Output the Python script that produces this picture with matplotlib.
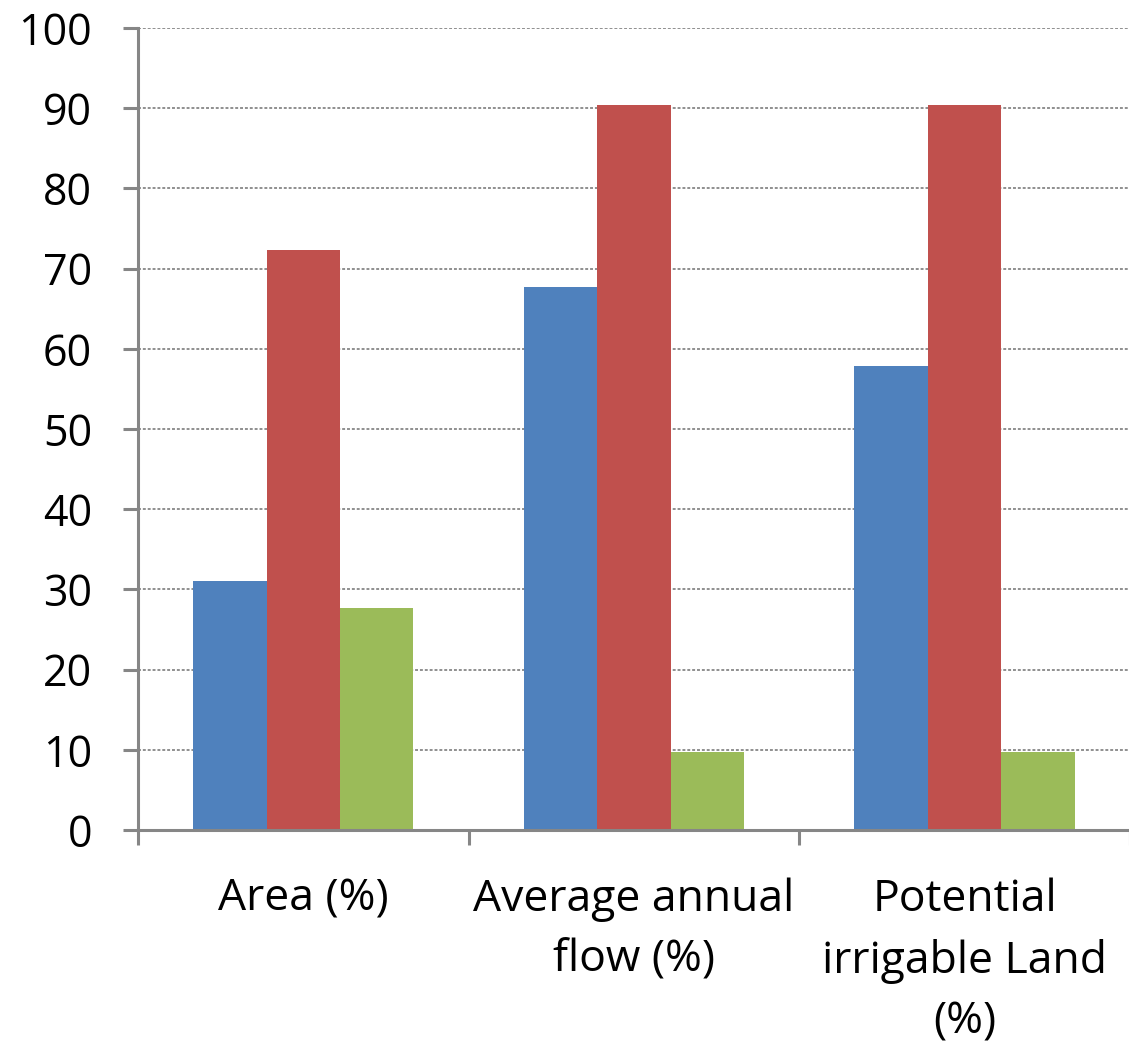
import numpy as np
import matplotlib.pyplot as plt

plt.rcParams['font.family'] = ['Open Sans', 'DejaVu Sans']

categories = ['Area (%)', 'Average annual\nflow (%)', 'Potential\nirrigable Land\n(%)']
blue_vals = [31.0, 67.7, 57.9]
red_vals = [72.3, 90.4, 90.4]
green_vals = [27.7, 9.7, 9.7]

fig = plt.figure(figsize=(11.29, 10.46), dpi=100)
ax = fig.add_axes([0.1222, 0.2065, 0.8785, 0.7667])

x = np.arange(len(categories))
w = 0.222
ax.bar(x - w, blue_vals, w, color='#4F81BD', zorder=3)
ax.bar(x, red_vals, w, color='#C0504D', zorder=3)
ax.bar(x + w, green_vals, w, color='#9BBB59', zorder=3)

ax.set_xlim(-0.5, len(categories) - 0.5)
ax.set_ylim(0, 100)
ax.set_yticks(np.arange(0, 101, 10))

# category labels centred, tick marks on the boundaries
ax.set_xticks(x)
ax.set_xticklabels(categories, fontsize=32, linespacing=1.5, va='top')
ax.set_xticks(np.arange(-0.5, len(categories), 1), minor=True)
ax.tick_params(axis='x', which='major', length=0, pad=34)
ax.tick_params(axis='x', which='minor', length=11, width=2.2, color='#868686', direction='out')
ax.tick_params(axis='y', labelsize=31, length=11, width=2.2, color='#868686', pad=22)

ax.grid(axis='y', color='#8f8f8f', linestyle=(0, (1.5, 1)), linewidth=1.4, zorder=0)

for side in ['top', 'right']:
    ax.spines[side].set_visible(False)
for side in ['left', 'bottom']:
    ax.spines[side].set_color('#868686')
    ax.spines[side].set_linewidth(2.2)
ax.spines['bottom'].set_zorder(4)

fig.savefig('out.png', dpi=100)
